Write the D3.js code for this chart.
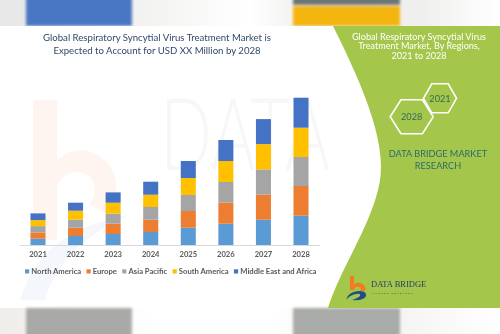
<!DOCTYPE html>
<html><head><meta charset="utf-8">
<script src="https://cdn.jsdelivr.net/npm/d3@7"></script>
<style>html,body{margin:0;padding:0;background:#fff;}svg{display:block;}</style>
</head><body>
<svg id="c" width="500" height="334"></svg>
<script>
const years = ["2021","2022","2023","2024","2025","2026","2027","2028"];
const regions = ["North America","Europe","Asia Pacific","South America","Middle East and Africa"];
const northAmerica = [6.3, 9, 11, 13, 17.3, 21.3, 25.3, 29.3];
const europe       = [6.3, 8.3, 10.3, 12.3, 16.7, 21, 25, 29.7];
const asiaPacific  = [6.3, 8, 10, 12.7, 16, 20.7, 25.3, 29];
const southAmerica = [6, 9, 11, 12.3, 17, 21, 25.3, 29.3];
const mea          = [6.7, 8, 10.3, 13, 17, 21, 25, 30];
const seriesValues = [northAmerica, europe, asiaPacific, southAmerica, mea];
const colors = ["#5b9bd5","#ed7d31","#a5a5a5","#ffc000","#4472c4"];
const titleLines = ["Global Respiratory Syncytial Virus Treatment Market is","Expected to Account for USD XX Million by 2028"];
const panelLines = ["Global Respiratory Syncytial Virus","Treatment Market, By Regions,","2021 to 2028"];

const svg = d3.select("#c");
const defs = svg.append("defs");
const font = "Lato, 'Open Sans', sans-serif";

// top band
const tg = defs.append("linearGradient").attr("id","tg");
[["0%","#e6e7e6"],["30%","#f3f4f1"],["50%","#ffffff"],["65%","#ebebe9"],["85%","#f0f0ef"],["100%","#ffffff"]].forEach(s=>tg.append("stop").attr("offset",s[0]).attr("stop-color",s[1]));
defs.append("filter").attr("id","blur").append("feGaussianBlur").attr("stdDeviation",1.5);
svg.append("rect").attr("x",0).attr("y",0).attr("width",500).attr("height",26).attr("fill","url(#tg)");
const topG = svg.append("g").attr("filter","url(#blur)");
topG.append("rect").attr("x",26).attr("y",-3).attr("width",106).attr("height",29).attr("fill","#4a77c3");
topG.append("rect").attr("x",293).attr("y",-3).attr("width",107).attr("height",8).attr("fill","#6b7676");
topG.append("rect").attr("x",293).attr("y",6).attr("width",107).attr("height",20).attr("fill","#f3b50b");
svg.append("rect").attr("x",0).attr("y",26).attr("width",500).attr("height",282).attr("fill","#fff");

// bottom band
const bg = defs.append("linearGradient").attr("id","bg");
[["0%","#efece9"],["30%","#ffffff"],["55%","#ffffff"],["70%","#eeeeec"],["100%","#ffffff"]].forEach(s=>bg.append("stop").attr("offset",s[0]).attr("stop-color",s[1]));
svg.append("rect").attr("x",0).attr("y",308).attr("width",500).attr("height",26).attr("fill","url(#bg)");
const botG = svg.append("g").attr("filter","url(#blur)");
botG.append("rect").attr("x",26).attr("y",308).attr("width",106).attr("height",30).attr("fill","#a9aaa8");
botG.append("rect").attr("x",293).attr("y",308).attr("width",107).attr("height",30).attr("fill","#a9aba8");

// watermark
const wm = svg.append("g").attr("opacity",0.45);
wm.append("path").attr("d","M33,100 L57,100 L57,160 Q80,140 105,160 Q125,180 110,215 L90,205 Q100,185 88,175 Q70,165 57,185 L57,240 L33,240 Z").attr("fill","#fde8df");
wm.append("path").attr("d","M20,300 Q40,230 130,215 Q60,245 45,300 Z").attr("fill","#e6ecf5");
const wmG = wm.append("g");
const wmT = wmG.append("text").attr("x",0).attr("y",0).attr("font-family",font).attr("font-size",100).attr("font-weight",300)
  .attr("fill","#ececec").text("DATA");
const wmW = wmT.node().getComputedTextLength();
wmG.attr("transform",`translate(160,170) scale(${170/wmW},1)`);

// green panel
svg.append("path").attr("d","M333,26 C365,90 390,150 378,190 C368,230 340,270 328,308 L500,308 L500,26 Z").attr("fill","#a4c64a");

// title
svg.append("g").selectAll("text").data(titleLines).join("text")
  .attr("x",157).attr("y",(d,i)=>40.5+i*13.5).attr("text-anchor","middle")
  .attr("font-family",font).attr("font-size",9.6).attr("fill","#2f4a68").text(d=>d);

// chart
const x = d3.scaleBand().domain(years).range([19.2,319.8]).paddingInner(0.6).paddingOuter(0.3);
const y = d3.scaleLinear().domain([0,150]).range([245,95]);
const table = years.map((yr,i)=>{const o={year:yr}; regions.forEach((r,j)=>o[r]=seriesValues[j][i]); return o;});
const stacked = d3.stack().keys(regions)(table);
svg.append("g").selectAll("g").data(stacked).join("g").attr("fill",(d,i)=>colors[i])
  .selectAll("rect").data(d=>d).join("rect")
  .attr("x",d=>x(d.data.year)).attr("width",x.bandwidth())
  .attr("y",d=>y(d[1])).attr("height",d=>y(d[0])-y(d[1]));

const ax = svg.append("g").attr("transform","translate(0,245)").call(d3.axisBottom(x).tickSize(0).tickPadding(7));
ax.select(".domain").attr("stroke","#d9d9d9").attr("d","M20,0.5H320");
ax.selectAll("text").attr("font-family",font).attr("font-size",7.6).attr("font-weight","bold").attr("fill","#595959");

// legend
const lg = svg.append("g");
let lx = 25;
regions.forEach((r,i)=>{
  lg.append("rect").attr("x",lx).attr("y",269.3).attr("width",4.2).attr("height",4.2).attr("fill",colors[i]);
  const t = lg.append("text").attr("x",lx+6.3).attr("y",274.4).attr("font-family",font).attr("font-size",7.65).attr("font-weight","bold").attr("fill","#595959").text(r);
  lx += 6.3 + t.node().getComputedTextLength() + 5.3;
});

// panel text
svg.append("g").selectAll("text").data(panelLines).join("text")
  .attr("x",419).attr("y",(d,i)=>39.5+i*9.6).attr("text-anchor","middle")
  .attr("font-family",font).attr("font-size",9.1).attr("fill","#ffffff").text(d=>d);

function hex(cx,cy,w,h){const a=w/2,b=h/2,c=w/4;return `M${cx-a},${cy} L${cx-c},${cy-b} L${cx+c},${cy-b} L${cx+a},${cy} L${cx+c},${cy+b} L${cx-c},${cy+b} Z`;}
svg.append("path").attr("d",hex(440,98.3,33,29)).attr("fill","none").attr("stroke","#fff").attr("stroke-width",1.6);
svg.append("path").attr("d",hex(411.7,116.7,43,34)).attr("fill","none").attr("stroke","#fff").attr("stroke-width",1.6);
svg.append("text").attr("x",440).attr("y",101.5).attr("text-anchor","middle").attr("font-family",font).attr("font-size",9.2).attr("fill","#35695f").text("2021");
svg.append("text").attr("x",411.7).attr("y",120).attr("text-anchor","middle").attr("font-family",font).attr("font-size",9.2).attr("fill","#35695f").text("2028");
svg.append("text").attr("x",438).attr("y",156.5).attr("text-anchor","middle").attr("font-family",font).attr("font-size",9.2).attr("fill","#2c6b70").text("DATA BRIDGE MARKET");
svg.append("text").attr("x",438).attr("y",169).attr("text-anchor","middle").attr("font-family",font).attr("font-size",9.2).attr("fill","#2c6b70").text("RESEARCH");

// logo
const logo = svg.append("g");
logo.append("path").attr("d","M350,276 L354,276 L354,284 Q360,281 364,285 Q367,289 364,292 L360,291 Q362,288 359,287 Q355,286 354,290 L350,290 Z").attr("fill","#ee7d22");
logo.append("path").attr("d","M346,300 Q348,292 358,291 Q367,291 366,296 Q364,301 352,300 Q358,298 360,296 Q361,293 356,294 Q350,295 346,300 Z").attr("fill","#1f4f8a");
logo.append("text").attr("x",371).attr("y",287).attr("font-family","'Liberation Serif', serif").attr("font-size",8.5).attr("fill","#2a3f6a").text("DATA BRIDGE");
logo.append("text").attr("x",372).attr("y",293.5).attr("font-family",font).attr("font-size",2.6).attr("letter-spacing",1.2).attr("fill","#2a3f6a").text("MARKET RESEARCH");
</script>
</body></html>
